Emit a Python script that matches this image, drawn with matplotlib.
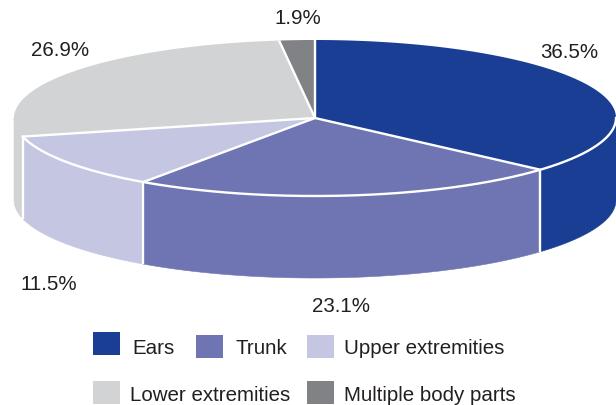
import numpy as np
import matplotlib
matplotlib.use("Agg")
import matplotlib.pyplot as plt
from matplotlib.patches import Polygon, Rectangle

categories = ["Ears", "Trunk", "Upper extremities", "Lower extremities", "Multiple body parts"]
values = [36.5, 23.1, 11.5, 26.9, 1.9]
value_labels = ["36.5%", "23.1%", "11.5%", "26.9%", "1.9%"]
colors = ["#1a3e93", "#6e75b2", "#c4c6e2", "#d1d3d4", "#808285"]
TEXT = "#231f20"

W, H = 616, 406
CX, CY, RX, RY, DEPTH = 315, 119, 301, 78, 82
label_pos = [(569, 53), (341, 307), (49, 285), (60, 50), (298, 18)]
legend_pos = [(93, 333, 132, 349), (196, 336, 236, 349), (307, 336, 344, 349),
              (93, 382, 130, 396), (307, 382, 344, 396)]
FS = 14.8

plt.rcParams["font.family"] = ["Liberation Sans", "DejaVu Sans"]
fig = plt.figure(figsize=(W / 100, H / 100), dpi=100)
ax = fig.add_axes([0, 0, 1, 1])
ax.set_xlim(0, W)
ax.set_ylim(H, 0)
ax.axis("off")

def pt(theta, dy=0.0):
    return np.column_stack([CX + RX * np.sin(theta), CY - RY * np.cos(theta) + dy])

fracs = np.array(values) / sum(values)
edges = np.concatenate([[0], np.cumsum(fracs)]) * 2 * np.pi
edge_c = "white"

# side walls: only the front half of the rim (pi/2 .. 3pi/2)
for i, col in enumerate(colors):
    a = max(edges[i], np.pi / 2)
    b = min(edges[i + 1], 3 * np.pi / 2)
    if b <= a:
        continue
    t = np.linspace(a, b, 120)
    poly = np.vstack([pt(t), pt(t[::-1], DEPTH)])
    ax.add_patch(Polygon(poly, closed=True, fc=col, ec=col, lw=0.4, zorder=2))
    if np.pi / 2 < edges[i + 1] < 3 * np.pi / 2 and i < 3:
        p = pt(np.array([edges[i + 1]]))[0]
        ax.plot([p[0], p[0]], [p[1], p[1] + DEPTH], color=edge_c, lw=1.7, zorder=3,
                solid_capstyle="butt")

# top faces
for i, col in enumerate(colors):
    t = np.linspace(edges[i], edges[i + 1], 200)
    poly = np.vstack([[CX, CY], pt(t)])
    ax.add_patch(Polygon(poly, closed=True, fc=col, ec="none", zorder=4))

# white rim on the front of the top face
t = np.linspace(np.pi / 2, edges[3], 300)
rim = pt(t)
ax.plot(rim[:, 0], rim[:, 1], color=edge_c, lw=1.7, zorder=5)

# white radial separators
for e in edges[:-1]:
    p = pt(np.array([e]))[0]
    ax.plot([CX, p[0]], [CY, p[1]], color=edge_c, lw=1.7, zorder=6, solid_capstyle="butt")

for lab, (x, y) in zip(value_labels, label_pos):
    ax.text(x, y, lab, ha="center", va="center", fontsize=FS, color=TEXT)

for cat, col, (sx, sy, tx, ty) in zip(categories, colors, legend_pos):
    ax.add_patch(Rectangle((sx, sy), 27, 23, fc=col, ec="none"))
    ax.text(tx, ty, cat, ha="left", va="center", fontsize=FS, color=TEXT)

fig.savefig("out.png", dpi=100)
